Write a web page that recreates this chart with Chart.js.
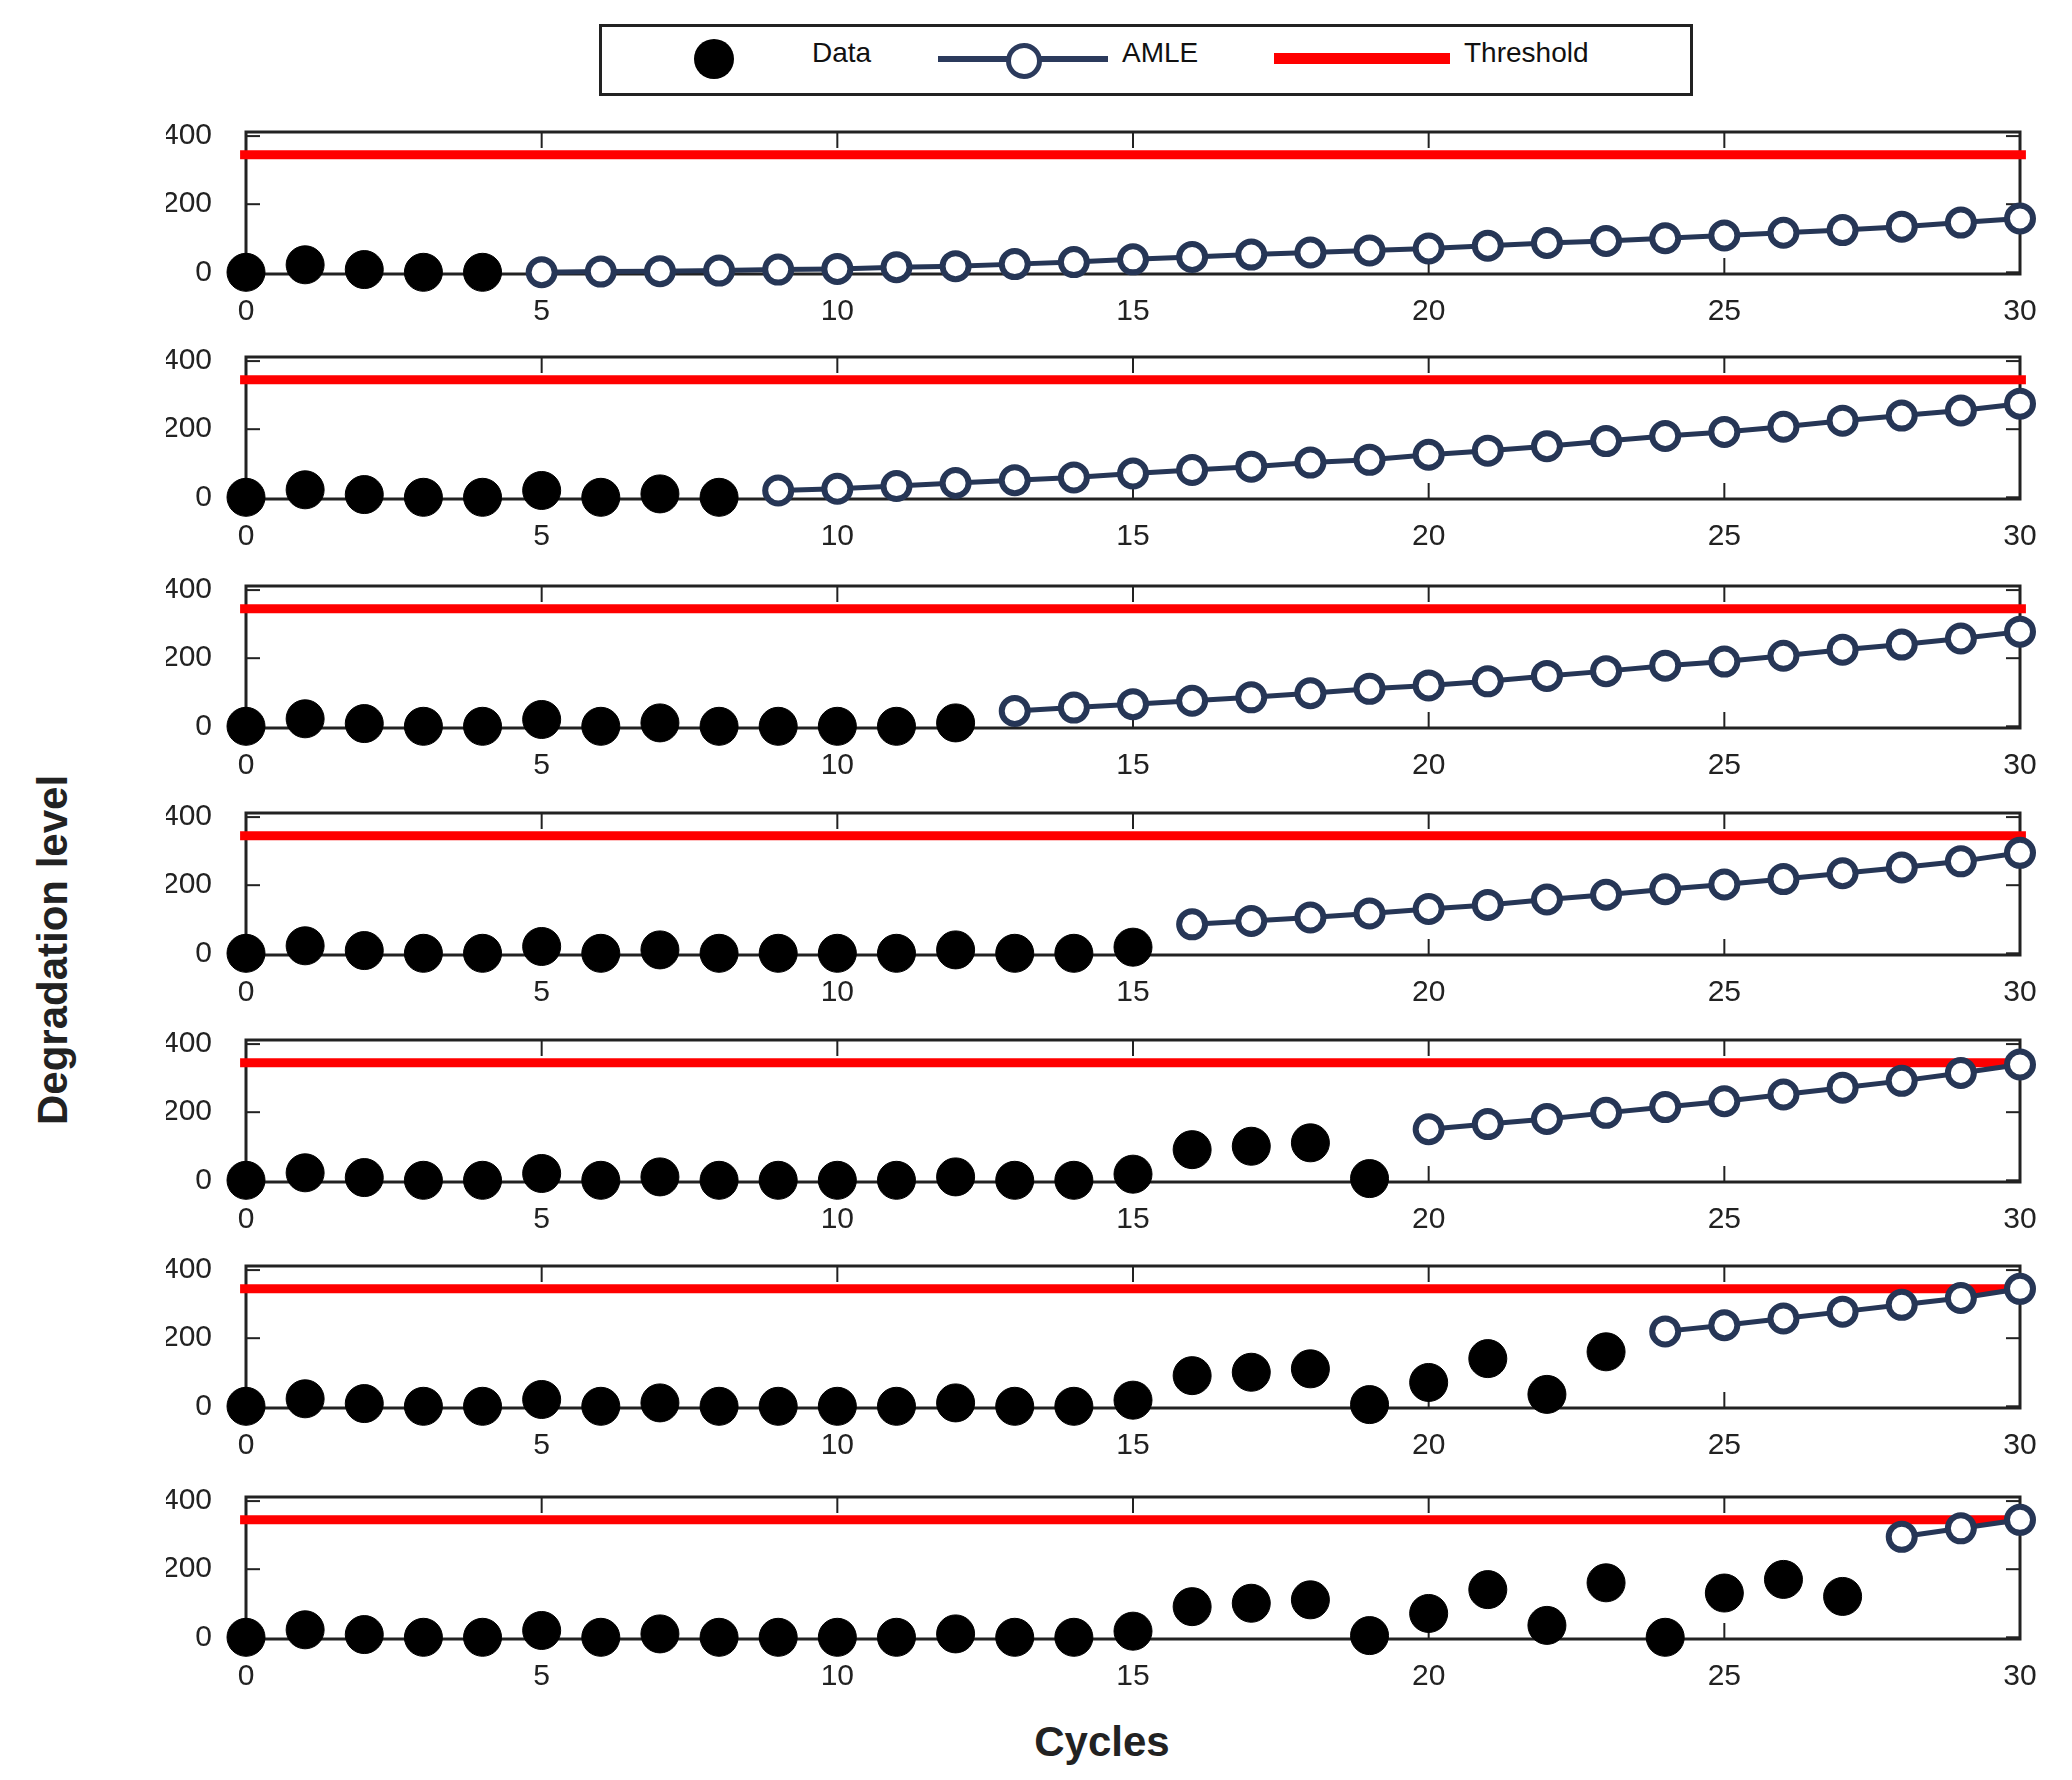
<!DOCTYPE html>
<html lang="en">
<head>
<meta charset="UTF-8">
<title>Degradation level vs Cycles</title>
<script src="https://cdn.jsdelivr.net/npm/chart.js"></script>
<style>
    body { margin: 0; background: #fff; width: 2072px; height: 1780px; position: relative; font-family: 'Liberation Sans', Arial, sans-serif; overflow: hidden; }
    canvas { position: absolute; left: 0; }
    .legend { position: absolute; left: 599px; top: 24px; width: 1088px; height: 66px; border: 3px solid #222; }
    .legend span { position: absolute; top: 10px; font-size: 28px; color: #111; }
    .ylab { position: absolute; left: 53px; top: 950px; transform: translate(-50%, -50%) rotate(-90deg); font-size: 42px; font-weight: bold; color: #222; white-space: nowrap; }
    .xlab { position: absolute; left: 1102px; top: 1742px; transform: translate(-50%, -50%); font-size: 42px; font-weight: bold; color: #222; }
</style>
</head>
<body>
<div class="legend">
    <div style="position:absolute;left:92px;top:12px;width:40px;height:40px;border-radius:50%;background:#000;"></div>
    <span style="left:210px">Data</span>
    <div style="position:absolute;left:336px;top:29px;width:170px;height:6px;background:#2b3a5c;"></div>
    <div style="position:absolute;left:404px;top:16px;width:26px;height:26px;border-radius:50%;border:5px solid #2b3a5c;background:#fff;"></div>
    <span style="left:520px">AMLE</span>
    <div style="position:absolute;left:672px;top:26px;width:176px;height:11px;background:#ff0000;"></div>
    <span style="left:862px">Threshold</span>
</div>
<div class="ylab">Degradation level</div>
<div class="xlab">Cycles</div>

<script>
    // measured data, cycle 0..27
    const dataValues = [0, 22, 8, 0, 0, 20, 0, 10, 0, 0, 0, 0, 10, 0, 0, 18, 90, 100, 110, 5, 70, 140, 35, 160, 0, 130, 170, 120];
    // number of measured points shown in each panel
    const dataCounts = [5, 9, 13, 16, 20, 24, 28];
    // AMLE predictions per panel, starting at cycle = dataCount
    const amle1 = [0, 2, 3, 5, 8, 10, 15, 18, 24, 30, 38, 45, 52, 58, 64, 70, 78, 86, 92, 100, 108, 116, 124, 134, 146, 158];
    const amle2 = [20, 25, 33, 42, 50, 58, 70, 80, 90, 102, 110, 125, 137, 150, 165, 180, 192, 207, 225, 240, 255, 275];
    const amle3 = [45, 55, 65, 75, 85, 97, 110, 120, 132, 148, 162, 178, 190, 207, 225, 240, 258, 278];
    const amle4 = [85, 95, 105, 117, 130, 142, 158, 172, 188, 202, 218, 235, 252, 270, 295];
    const amle5 = [150, 165, 180, 198, 215, 232, 252, 272, 292, 315, 340];
    const amle6 = [220, 238, 258, 278, 298, 318, 345];
    const amle7 = [295, 320, 345];
    const amleSets = [amle1, amle2, amle3, amle4, amle5, amle6, amle7];
    const threshold = 345;
    const xTicks = [0, 5, 10, 15, 20, 25, 30];
    const yTicks = [0, 200, 400];

    const panelTops = [104, 329, 558, 785, 1012, 1238, 1469];
    const plotH = 170;

    const boxPlugin = {
        id: 'box',
        beforeDatasetsDraw(chart) {
            const a = chart.chartArea, ctx = chart.ctx;
            ctx.save();
            ctx.strokeStyle = '#222';
            ctx.lineWidth = 3;
            ctx.strokeRect(a.left, a.top, a.right - a.left, a.bottom - a.top);
            // inward ticks on all sides
            ctx.lineWidth = 2;
            const xs = chart.scales.x, ys = chart.scales.y;
            xTicks.forEach(t => {
                const px = xs.getPixelForValue(t);
                ctx.beginPath(); ctx.moveTo(px, a.top); ctx.lineTo(px, a.top + 16); ctx.stroke();
                ctx.beginPath(); ctx.moveTo(px, a.bottom); ctx.lineTo(px, a.bottom - 16); ctx.stroke();
            });
            yTicks.forEach(t => {
                const py = ys.getPixelForValue(t);
                ctx.beginPath(); ctx.moveTo(a.left, py); ctx.lineTo(a.left + 14, py); ctx.stroke();
                ctx.beginPath(); ctx.moveTo(a.right, py); ctx.lineTo(a.right - 14, py); ctx.stroke();
            });
            ctx.restore();
        }
    };

    panelTops.forEach((top, i) => {
        const cv = document.createElement('canvas');
        cv.width = 2072;
        cv.height = plotH + 66;
        cv.style.top = (top - 16) + 'px';
        document.body.appendChild(cv);

        const n = dataCounts[i];
        const pts = dataValues.slice(0, n).map((v, k) => ({ x: k, y: v }));
        const amle = amleSets[i].map((v, k) => ({ x: n + k, y: v }));

        new Chart(cv.getContext('2d'), {
            type: 'line',
            data: {
                datasets: [
                    { label: 'Threshold', data: [{ x: -0.1, y: threshold }, { x: 30.1, y: threshold }],
                      borderColor: '#ff0000', borderWidth: 9, pointRadius: 0, order: 3 },
                    { label: 'AMLE', data: amle, borderColor: '#263656', borderWidth: 5,
                      pointRadius: 13, pointBorderWidth: 6, pointBackgroundColor: '#ffffff',
                      pointBorderColor: '#263656', order: 1 },
                    { label: 'Data', data: pts, showLine: false, pointRadius: 19,
                      pointBackgroundColor: '#000', pointBorderColor: '#000', order: 2 }
                ]
            },
            options: {
                responsive: false,
                animation: false,
                devicePixelRatio: 1,
                clip: false,
                layout: { padding: { left: 166, right: 52, top: 16, bottom: 0 } },
                plugins: { legend: { display: false }, tooltip: { enabled: false } },
                scales: {
                    x: {
                        type: 'linear', min: 0, max: 30,
                        afterBuildTicks: s => { s.ticks = xTicks.map(v => ({ value: v })); },
                        afterFit: s => { s.height = 50; },
                        grid: { display: false },
                        border: { display: false },
                        ticks: { font: { size: 30, family: 'Liberation Sans' }, color: '#222', padding: 12, maxRotation: 0 }
                    },
                    y: {
                        min: -5, max: 412,
                        afterBuildTicks: s => { s.ticks = yTicks.map(v => ({ value: v })); },
                        afterFit: s => { s.width = 80; },
                        grid: { display: false },
                        border: { display: false },
                        ticks: { font: { size: 30, family: 'Liberation Sans' }, color: '#222', padding: 26 }
                    }
                }
            },
            plugins: [boxPlugin]
        });
    });
</script>
</body>
</html>
